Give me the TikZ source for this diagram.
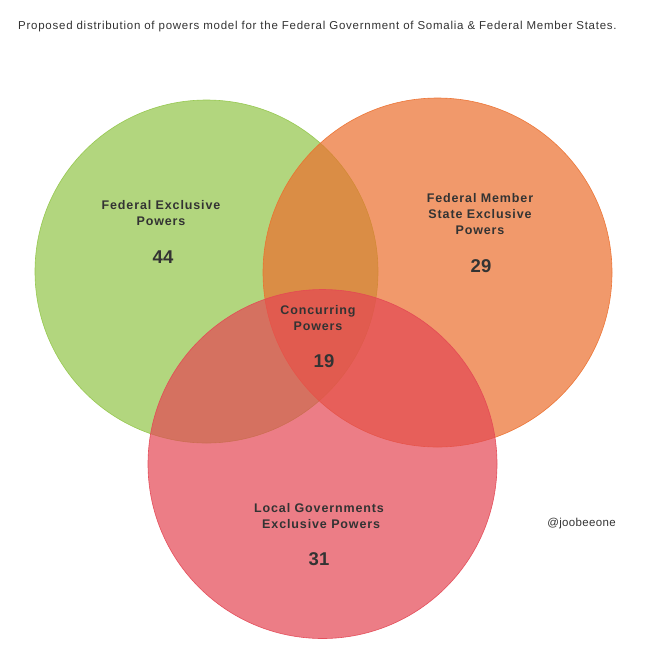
\documentclass[tikz,border=0pt]{standalone}
\usepackage{fontspec}
\setmainfont{Liberation Sans}
\definecolor{gbase}{RGB}{146,198,72}
\definecolor{obase}{RGB}{236,111,45}
\definecolor{rbase}{RGB}{228,71,84}
\definecolor{txt}{RGB}{51,51,51}
\begin{document}
\begin{tikzpicture}[x=1pt,y=-1pt,
  setc/.style={circle,minimum size=#1,inner sep=0pt,fill opacity=0.7,draw opacity=0.9,line width=0.6pt},
  lab/.style={text=txt,font=\fontsize{12.5}{16}\selectfont\bfseries\addfontfeature{LetterSpace=7},align=center,inner sep=0pt},
  num/.style={text=txt,font=\fontsize{18.5}{20}\selectfont\bfseries\addfontfeature{LetterSpace=2},inner sep=0pt}]
\useasboundingbox[fill=white] (0,0) rectangle (658,654);
\node[text=txt,font=\fontsize{11.5}{12}\selectfont\addfontfeature{LetterSpace=6.5},anchor=west,inner sep=0pt] (title) at (18,27) {Proposed distribution of powers model for the Federal Government of Somalia \& Federal Member States.};
\node[setc=343pt,fill=gbase,draw=gbase] (g) at (206.5,271.5) {};
\node[setc=349pt,fill=obase,draw=obase] (o) at (437.5,272.5) {};
\node[setc=349pt,fill=rbase,draw=rbase] (r) at (322.5,464) {};
\node[lab] (gl) at (161,213) {Federal Exclusive\\Powers};
\node[num] (gn) at (163,257) {44};
\node[lab] (ol) at (480,214) {Federal Member\\State Exclusive\\Powers};
\node[num] (on) at (481,266) {29};
\node[lab] (cl) at (318,318) {Concurring\\Powers};
\node[num] (cn) at (324,361) {19};
\node[lab] (rl) at (319,516.5) {Local Governments\\\ Exclusive Powers};
\node[num] (rn) at (319,559) {31};
\node[text=txt,font=\fontsize{11.5}{12}\selectfont\addfontfeature{LetterSpace=3},inner sep=0pt] (tag) at (581.5,524) {@joobeeone};
\end{tikzpicture}
\end{document}
